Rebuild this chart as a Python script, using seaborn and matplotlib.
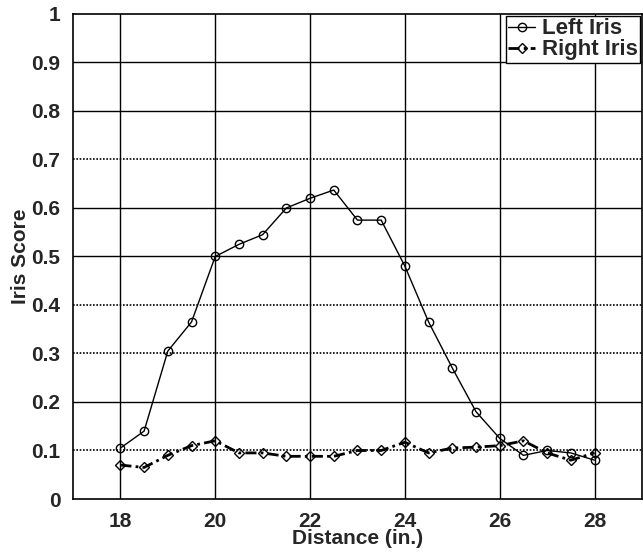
import matplotlib
matplotlib.use("Agg")
import matplotlib.pyplot as plt
import seaborn as sns
import pandas as pd

distance = [18, 18.5, 19, 19.5, 20, 20.5, 21, 21.5, 22, 22.5, 23, 23.5,
            24, 24.5, 25, 25.5, 26, 26.5, 27, 27.5, 28]
left_iris = [0.105, 0.14, 0.305, 0.365, 0.50, 0.525, 0.545, 0.60, 0.62, 0.637, 0.575, 0.575,
             0.48, 0.365, 0.27, 0.18, 0.125, 0.09, 0.10, 0.095, 0.08]
right_iris = [0.07, 0.065, 0.09, 0.11, 0.12, 0.095, 0.095, 0.088, 0.088, 0.088, 0.10, 0.10,
              0.117, 0.095, 0.105, 0.107, 0.11, 0.12, 0.095, 0.08, 0.095]
xticks = [18, 20, 22, 24, 26, 28]
yticks = [0, 0.1, 0.2, 0.3, 0.4, 0.5, 0.6, 0.7, 0.8, 0.9, 1]
ytick_labels = ["0", "0.1", "0.2", "0.3", "0.4", "0.5", "0.6", "0.7", "0.8", "0.9", "1"]
dotted_rows = [0.1, 0.3, 0.4, 0.7]

sns.set_style("white")
plt.rcParams['font.family'] = ['Liberation Sans', 'DejaVu Sans']
plt.rcParams['font.weight'] = 'bold'

df = pd.DataFrame({"Distance": distance, "Left Iris": left_iris, "Right Iris": right_iris})

fig = plt.figure(figsize=(6.43, 5.55), dpi=100)
ax = fig.add_axes([0.1135, 0.1009, 0.8849, 0.8739])

# grid
for xv in xticks:
    ax.axvline(xv, color="black", lw=1.0, zorder=0)
for yv in yticks[1:-1]:
    if yv in dotted_rows:
        ax.axhline(yv, color="black", lw=1.2, ls=(0, (1, 1)), zorder=0)
    else:
        ax.axhline(yv, color="black", lw=1.0, zorder=0)

sns.lineplot(data=df, x="Distance", y="Left Iris", ax=ax, color="black", lw=1.0,
             marker="o", markersize=6, markerfacecolor="none", markeredgecolor="black",
             markeredgewidth=1.0, label="Left Iris")
sns.lineplot(data=df, x="Distance", y="Right Iris", ax=ax, color="black", lw=2.0,
             linestyle=(0, (4, 1.5, 1, 1.5)), marker="D", markersize=5, markerfacecolor="none",
             markeredgecolor="black", markeredgewidth=1.0, label="Right Iris")

ax.set_xlim(17, 29)
ax.set_ylim(0, 1)
ax.set_xticks(xticks)
ax.set_yticks(yticks)
ax.set_yticklabels(ytick_labels)
ax.tick_params(axis="both", labelsize=15, length=0)
ax.tick_params(axis="x", pad=9)
ax.tick_params(axis="y", pad=9)
for lab in ax.get_xticklabels() + ax.get_yticklabels():
    lab.set_fontweight("bold")
ax.set_xlabel("Distance (in.)", fontsize=15, fontweight="bold", labelpad=-1)
ax.set_ylabel("Iris Score", fontsize=15, fontweight="bold", labelpad=1)
for s in ax.spines.values():
    s.set_color("black")
    s.set_linewidth(1.2)

leg = ax.legend(loc="upper right", frameon=True, fancybox=False,
                edgecolor="black", framealpha=1, borderpad=0.1, labelspacing=0.0,
                handlelength=1.2, handletextpad=0.3, borderaxespad=0.1,
                prop={"weight": "bold", "size": 16})
leg.get_frame().set_linewidth(1.0)

fig.savefig("out.png", dpi=100)
